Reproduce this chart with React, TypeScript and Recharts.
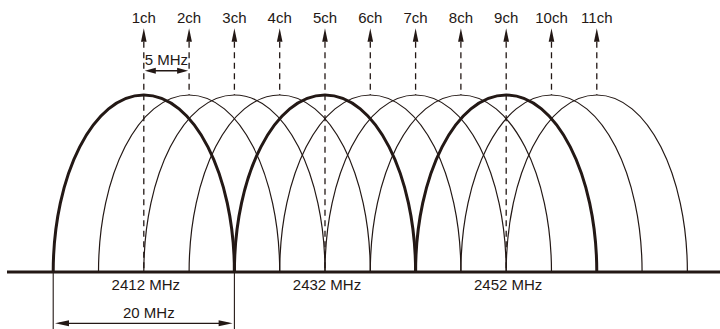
import { Line, LineChart, ReferenceLine, XAxis, YAxis } from "recharts";

const channels = ["1ch", "2ch", "3ch", "4ch", "5ch", "6ch", "7ch", "8ch", "9ch", "10ch", "11ch"];
const centerFreqs = [2412, 2417, 2422, 2427, 2432, 2437, 2442, 2447, 2452, 2457, 2462];
const boldChannels = ["1ch", "5ch", "9ch"];
const bandwidth = 20; // MHz per channel
const freqTicks = [2412, 2432, 2452];
const spacingLabel = "5 MHz";
const widthLabel = "20 MHz";

const INK = "#231815";
const FONT = "'Liberation Sans', Arial, sans-serif";

// y units: 0 = baseline, 1 = top of an arch
const ARCH_TOP = 1;
const ARROW_TIP = 1.377;
const SPACING_Y = 1.137;
const WIDTH_Y = -0.29;
const EXT_BOTTOM = -0.34;

// d3 curve: three points (base, top, base) drawn as a half ellipse
const archCurve = (ctx: any) => {
  let pts: number[][] = [];
  const K = 0.5523;
  return {
    areaStart() {},
    areaEnd() {},
    lineStart() {
      pts = [];
    },
    point(x: number, y: number) {
      pts.push([+x, +y]);
    },
    lineEnd() {
      if (pts.length < 3) return;
      const [a, b, c] = pts;
      ctx.moveTo(a[0], a[1]);
      ctx.bezierCurveTo(a[0], a[1] - K * (a[1] - b[1]), b[0] - K * (b[0] - a[0]), b[1], b[0], b[1]);
      ctx.bezierCurveTo(b[0] + K * (c[0] - b[0]), b[1], c[0], c[1] - K * (c[1] - b[1]), c[0], c[1]);
    },
  };
};

const channelArrow = (label: string) => (p: any) => {
  const top = Math.min(p.y1, p.y2);
  const bottom = Math.max(p.y1, p.y2);
  const x = p.x1;
  return (
    <g>
      <line x1={x} x2={x} y1={top + 13.5} y2={bottom} stroke={INK} strokeWidth={1.3} strokeDasharray="6 4.5" />
      <polygon points={`${x},${top} ${x - 2.8},${top + 13.5} ${x + 2.8},${top + 13.5}`} fill={INK} />
      <text x={x} y={top - 5} textAnchor="middle" fontSize={15} fill={INK} fontFamily={FONT}>
        {label}
      </text>
    </g>
  );
};

const dimArrow = (label: string, headLen: number, inset: number, dx: number) => (p: any) => {
  const left = Math.min(p.x1, p.x2) + inset;
  const right = Math.max(p.x1, p.x2) - inset;
  const y = p.y1;
  return (
    <g>
      <line x1={left + 4} x2={right - 4} y1={y} y2={y} stroke={INK} strokeWidth={1.3} />
      <polygon points={`${left},${y} ${left + headLen},${y - 3} ${left + headLen},${y + 3}`} fill={INK} />
      <polygon points={`${right},${y} ${right - headLen},${y - 3} ${right - headLen},${y + 3}`} fill={INK} />
      <text x={(left + right) / 2 + dx} y={y - 5.5} textAnchor="middle" fontSize={15} fill={INK} fontFamily={FONT}>
        {label}
      </text>
    </g>
  );
};

const order = channels
  .map((ch, i) => ({ ch, f: centerFreqs[i], bold: boldChannels.includes(ch) }))
  .sort((a, b) => Number(a.bold) - Number(b.bold));

export default function App() {
  return (
    <div style={{ position: "absolute", left: 0, top: 0, background: "#fff" }}>
      <LineChart
        width={720}
        height={329}
        margin={{ top: 0, right: 0, bottom: 27, left: 7 }}
        style={{ fontFamily: FONT }}
      >
        <XAxis
          dataKey="f"
          type="number"
          domain={[2396.9, 2475.6]}
          allowDataOverflow
          ticks={freqTicks}
          tickFormatter={(v) => `${v} MHz`}
          tickLine={false}
          tickMargin={1}
          axisLine={{ stroke: INK, strokeWidth: 3 }}
          tick={{ fill: INK, fontSize: 15, dx: 2 }}
          height={30}
          interval={0}
        />
        <YAxis hide type="number" domain={[0, 1.5367]} allowDataOverflow />
        {order.map(({ ch, f, bold }) => (
          <Line
            key={ch}
            data={[
              { f: f - bandwidth / 2, v: 0 },
              { f, v: ARCH_TOP },
              { f: f + bandwidth / 2, v: 0 },
            ]}
            dataKey="v"
            type={archCurve as any}
            stroke={INK}
            strokeWidth={bold ? 3 : 1.2}
            dot={false}
            activeDot={false}
            isAnimationActive={false}
          />
        ))}
        {channels.map((ch, i) => (
          <ReferenceLine
            key={`a-${ch}`}
            segment={[
              { x: centerFreqs[i], y: boldChannels.includes(ch) ? 0 : ARCH_TOP },
              { x: centerFreqs[i], y: ARROW_TIP },
            ]}
            ifOverflow="visible"
            shape={channelArrow(ch)}
          />
        ))}
        <ReferenceLine
          segment={[
            { x: centerFreqs[0], y: SPACING_Y },
            { x: centerFreqs[1], y: SPACING_Y },
          ]}
          ifOverflow="visible"
          shape={dimArrow(spacingLabel, 11, 1, 0)}
        />
        {[centerFreqs[0] - bandwidth / 2, centerFreqs[0] + bandwidth / 2].map((f) => (
          <ReferenceLine
            key={`e-${f}`}
            segment={[
              { x: f, y: 0 },
              { x: f, y: EXT_BOTTOM },
            ]}
            ifOverflow="visible"
            stroke={INK}
            strokeWidth={1.1}
          />
        ))}
        <ReferenceLine
          segment={[
            { x: centerFreqs[0] - bandwidth / 2, y: WIDTH_Y },
            { x: centerFreqs[0] + bandwidth / 2, y: WIDTH_Y },
          ]}
          ifOverflow="visible"
          shape={dimArrow(widthLabel, 14, 1.8, 5)}
        />
      </LineChart>
    </div>
  );
}
